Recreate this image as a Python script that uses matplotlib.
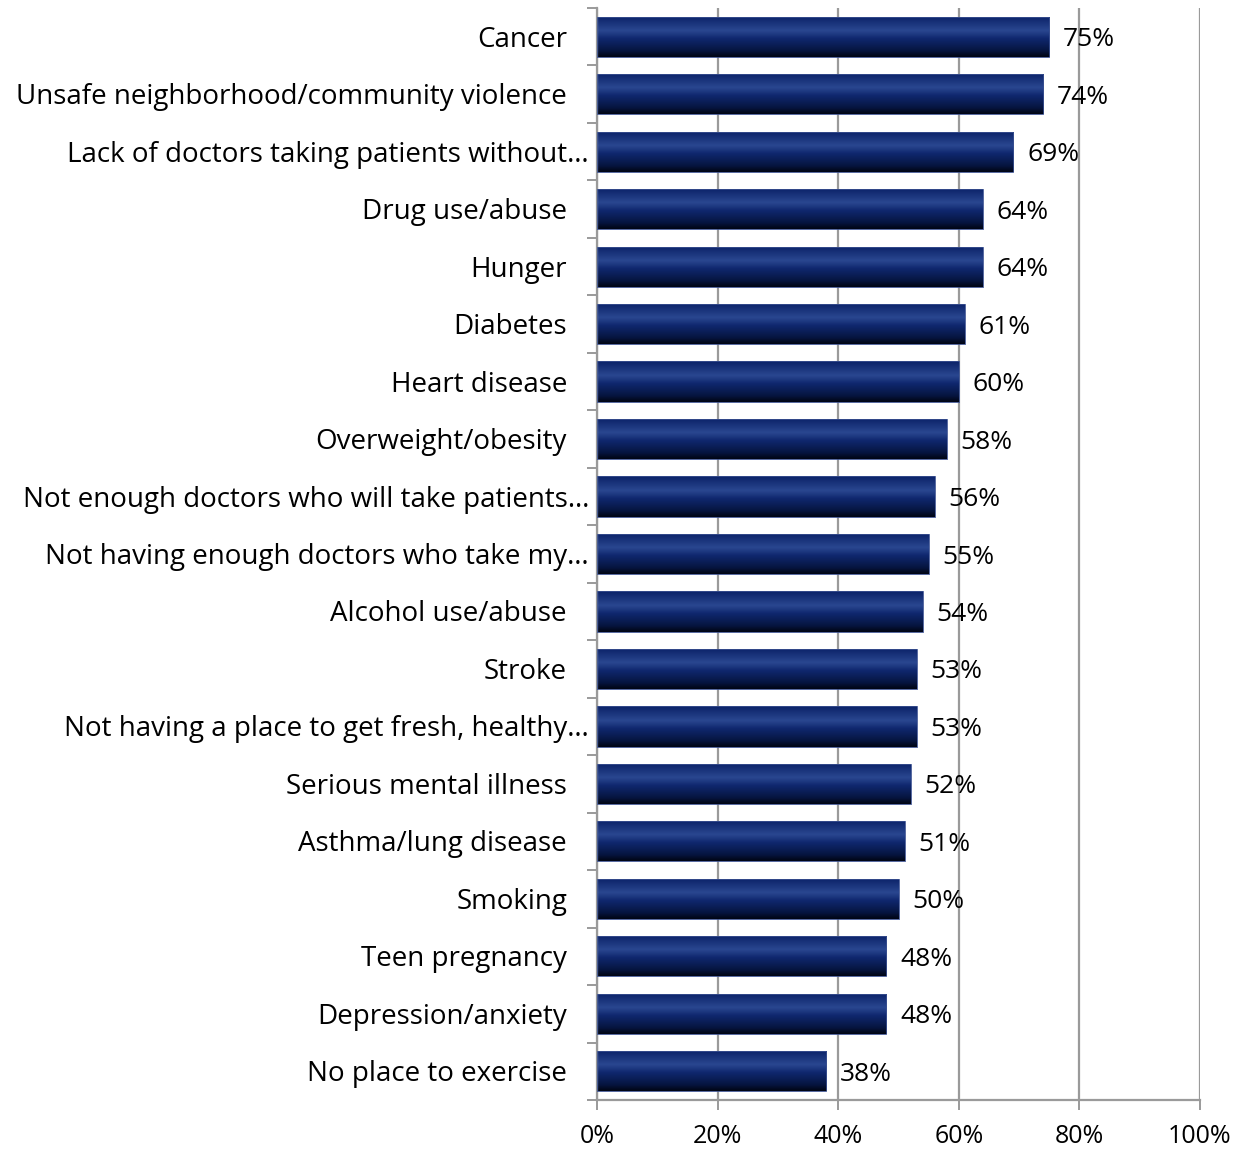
import numpy as np
import matplotlib.pyplot as plt
from matplotlib.colors import LinearSegmentedColormap

plt.rcParams['font.family'] = ['Open Sans', 'DejaVu Sans']

categories = ['Cancer', 'Unsafe neighborhood/community violence',
              'Lack of doctors taking patients without…', 'Drug use/abuse',
              'Hunger', 'Diabetes', 'Heart disease', 'Overweight/obesity',
              'Not enough doctors who will take patients…',
              'Not having enough doctors who take my…', 'Alcohol use/abuse',
              'Stroke', 'Not having a place to get fresh, healthy…',
              'Serious mental illness', 'Asthma/lung disease', 'Smoking',
              'Teen pregnancy', 'Depression/anxiety', 'No place to exercise']
values = [75, 74, 69, 64, 64, 61, 60, 58, 56, 55, 54, 53, 53, 52, 51, 50, 48, 48, 38]

grid_col = '#9a9a9a'
bar_cmap = LinearSegmentedColormap.from_list(
    'bar', [(0, '#0b2268'), (0.35, '#2a4790'), (0.55, '#0f276e'), (0.85, '#061540'), (1, '#000514')])

fig = plt.figure(figsize=(12.44, 11.5), dpi=100)
ax = fig.add_axes([597/1244, 1 - 1100/1150, 603/1244, 1092/1150])

n = len(categories)
ypos = np.arange(n)
bh = 0.70
bars = ax.barh(ypos, values, height=bh, color='none', edgecolor='#3a5090', linewidth=0.6, zorder=3)
grad = np.linspace(0, 1, 64).reshape(-1, 1)
for b in bars:
    x0, y0 = b.get_x(), b.get_y()
    w, h = b.get_width(), b.get_height()
    # gradient runs top (light band) to bottom (dark)
    im = ax.imshow(grad, cmap=bar_cmap, aspect='auto', extent=(x0, x0 + w, y0 + h, y0),
                   origin='upper', zorder=2.5, interpolation='bicubic')
    im.set_clip_path(b)
for y, v in zip(ypos, values):
    ax.annotate(f'{v}%', xy=(v, y), xytext=(14, -3), textcoords='offset pixels',
                va='center', ha='left', fontsize=19, color='black', zorder=4)

ax.set_xlim(0, 100)
ax.set_ylim(n - 0.5, -0.5)
ax.set_xticks(range(0, 101, 20))
ax.set_xticklabels([f'{t}%' for t in range(0, 101, 20)], fontsize=18)
ax.xaxis.grid(True, color=grid_col, linewidth=1.6, zorder=0)
ax.set_axisbelow(True)
ax.tick_params(axis='x', length=7, width=1.4, color=grid_col, pad=10)

ax.set_yticks(ypos)
ax.set_yticklabels([])
ax.set_yticks(np.arange(-0.5, n, 1), minor=True)
ax.tick_params(axis='y', which='major', length=0)
ax.tick_params(axis='y', which='minor', length=7, width=1.4, color=grid_col)
for y, lab in zip(ypos, categories):
    pad = 8 if lab.endswith('…') else 30
    ax.annotate(lab, xy=(0, y), xycoords=('axes fraction', 'data'),
                xytext=(-pad, -3), textcoords='offset pixels',
                ha='right', va='center', fontsize=20)

for s in ['top', 'right']:
    ax.spines[s].set_visible(False)
for s in ['left', 'bottom']:
    ax.spines[s].set_color(grid_col)
    ax.spines[s].set_linewidth(1.6)

fig.savefig('out.png', dpi=100)
